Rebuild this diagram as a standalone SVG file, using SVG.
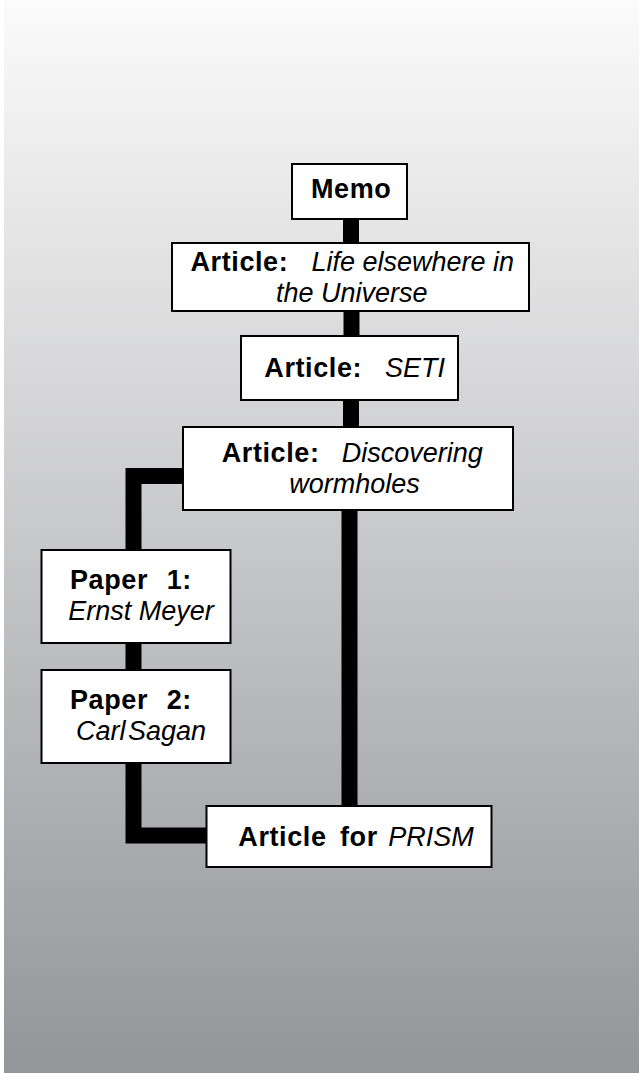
<svg xmlns="http://www.w3.org/2000/svg" width="639" height="1073" viewBox="0 0 639 1073">
<defs>
<linearGradient id="bg" x1="0" y1="0" x2="0" y2="1">
<stop offset="0" stop-color="#fbfbfb"/>
<stop offset="1" stop-color="#949599"/>
</linearGradient>
</defs>
<style>
.box{fill:#fff;stroke:#000;stroke-width:2}
.t{font-family:"Liberation Sans",Arial,sans-serif;font-size:27px;fill:#000}
.b{font-weight:bold;letter-spacing:0.6px}
.i{font-style:italic}
.c{fill:none;stroke:#000;stroke-width:16;stroke-linejoin:miter;stroke-linecap:butt}
</style>
<rect x="0" y="0" width="639" height="1073" fill="#fff"/>
<rect x="4" y="0" width="635" height="1073" fill="url(#bg)"/>
<g id="connectors">
<path class="c" d="M351 219V244"/>
<path class="c" d="M351.5 311V336"/>
<path class="c" d="M351 400V427"/>
<path class="c" d="M349.5 510V806"/>
<path class="c" d="M183 476H133.5V550"/>
<path class="c" d="M133.5 642V670"/>
<path class="c" d="M133.5 762V835.5H207"/>
</g>
<g id="memo">
<rect class="box" x="292" y="164" width="115" height="55"/>
<text class="t b" x="311" y="198">Memo</text>
</g>
<g id="article-life">
<rect class="box" x="172" y="243" width="357" height="68"/>
<text class="t b" x="190.5" y="271">Article:</text>
<text class="t i" x="311.5" y="271">Life elsewhere in</text>
<text class="t i" x="276" y="302">the Universe</text>
</g>
<g id="article-seti">
<rect class="box" x="241" y="336" width="217" height="64"/>
<text class="t b" x="264.3" y="377">Article:</text>
<text class="t i" x="385" y="377">SETI</text>
</g>
<g id="article-wormholes">
<rect class="box" x="183" y="427" width="330" height="83"/>
<text class="t b" x="221.7" y="461.7">Article:</text>
<text class="t i" x="341.7" y="461.7">Discovering</text>
<text class="t i" x="289.3" y="493.3">wormholes</text>
</g>
<g id="paper1">
<rect class="box" x="41.5" y="550" width="189" height="93"/>
<text class="t b" x="70" y="589">Paper</text>
<text class="t b" x="166.7" y="589">1:</text>
<text class="t i" x="68.3" y="620">Ernst Meyer</text>
</g>
<g id="paper2">
<rect class="box" x="41.5" y="670" width="189" height="93"/>
<text class="t b" x="70" y="709">Paper</text>
<text class="t b" x="166.7" y="709">2:</text>
<text class="t i" x="76" y="740">Carl</text>
<text class="t i" x="128" y="740">Sagan</text>
</g>
<g id="article-prism">
<rect class="box" x="206.5" y="806" width="285" height="61"/>
<text class="t b" x="238.3" y="846">Article</text>
<text class="t b" x="340" y="846">for</text>
<text class="t i" x="388.3" y="846">PRISM</text>
</g>
</svg>
